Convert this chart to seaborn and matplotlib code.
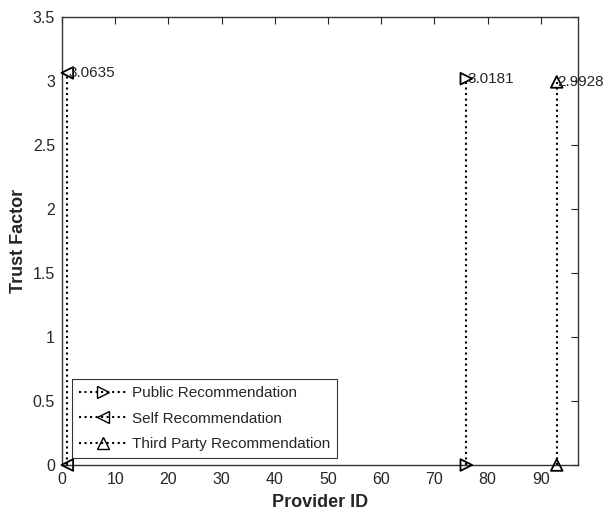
import matplotlib
matplotlib.use("Agg")
import matplotlib.pyplot as plt
import seaborn as sns

# Dados
series_names = ["Public Recommendation", "Self Recommendation", "Third Party Recommendation"]
provider_ids = [76, 1, 93]
trust_values = [3.0181, 3.0635, 2.9928]
markers = [">", "<", "^"]
value_labels = ["3.0181", "3.0635", "2.9928"]

sns.set_style("white")
plt.rcParams["font.family"] = ["Liberation Sans", "DejaVu Sans"]

fig = plt.figure(figsize=(6.04, 5.13), dpi=100)
ax = fig.add_axes([62 / 604, 48 / 513, 516 / 604, 448 / 513])

for name, x, y, m, lab in zip(series_names, provider_ids, trust_values, markers, value_labels):
    # haste pontilhada
    ax.plot([x, x], [0, y], color="black", linestyle=":", linewidth=1.5, zorder=2)
    sns.scatterplot(x=[x, x], y=[y, 0], marker=m, s=70, facecolor="none",
                    edgecolor="black", linewidth=1.3, ax=ax, zorder=3, legend=False,
                    clip_on=False)
    ax.plot([], [], color="black", linestyle=":", linewidth=1.5, marker=m,
            markerfacecolor="none", markeredgecolor="black", markersize=8, label=name)
    ax.text(x + 0.15, y, lab, fontsize=11, va="center", ha="left")

ax.set_xlim(0, 97)
ax.set_ylim(0, 3.5)
ax.set_xticks(range(0, 91, 10))
ax.set_yticks([0, 0.5, 1, 1.5, 2, 2.5, 3, 3.5])
ax.set_yticklabels(["0", "0.5", "1", "1.5", "2", "2.5", "3", "3.5"])
ax.tick_params(direction="in", top=True, right=True, length=5, labelsize=11.5, width=0.8, pad=5)
for s in ax.spines.values():
    s.set_color("#333333")
    s.set_linewidth(1.0)

ax.set_xlabel("Provider ID", fontsize=13, fontweight="bold", labelpad=5)
ax.set_ylabel("Trust Factor", fontsize=13, fontweight="bold", labelpad=4)

leg = ax.legend(loc="lower left", bbox_to_anchor=(0.019, 0.0156), borderaxespad=0,
                fontsize=11, frameon=True, fancybox=False, edgecolor="black",
                handlelength=3.2, handletextpad=0.3, borderpad=0.45, labelspacing=0.75)
leg.get_frame().set_linewidth(0.8)

plt.savefig("out.png", dpi=100)
plt.close()
